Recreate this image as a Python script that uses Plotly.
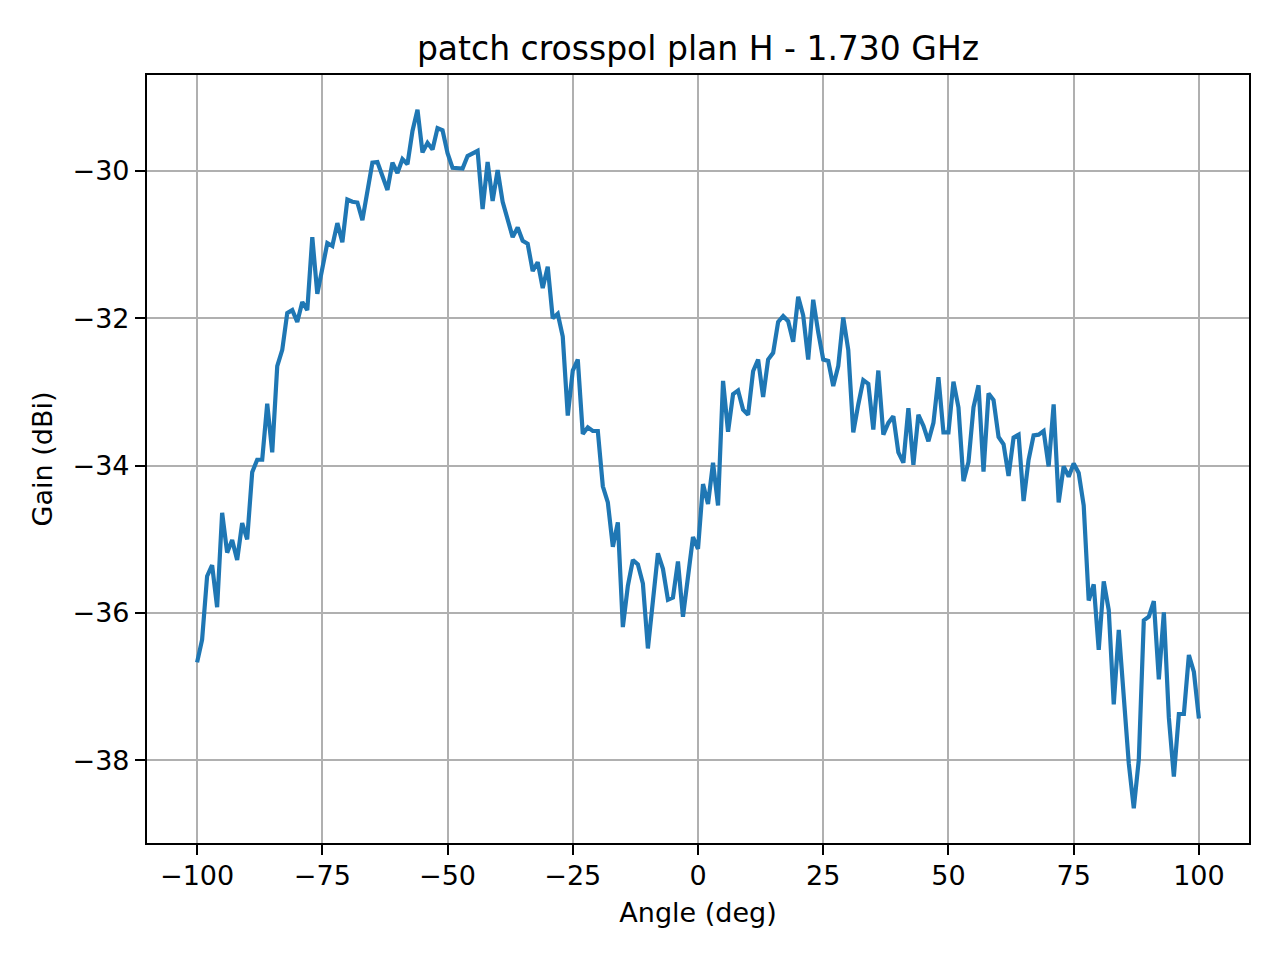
import plotly.graph_objects as go

# measured cross-pol gain, H plane, 1 deg steps from -100 to 100
angle_deg = list(range(-100, 101))
gain_dbi = [
    -36.67, -36.36, -35.50, -35.35, -35.92, -34.64, -35.18, -35.01, -35.28, -34.78,  # -100..-91
    -35.00, -34.09, -33.92, -33.92, -33.16, -33.82, -32.65, -32.43, -31.93, -31.89,  # -90..-81
    -32.05, -31.78, -31.89, -30.90, -31.67, -31.33, -30.98, -31.02, -30.71, -30.97,  # -80..-71
    -30.39, -30.42, -30.43, -30.67, -30.27, -29.89, -29.88, -30.06, -30.26, -29.89,  # -70..-61
    -30.03, -29.84, -29.91, -29.46, -29.17, -29.75, -29.62, -29.71, -29.42, -29.45,  # -60..-51
    -29.76, -29.96, -29.97, -29.97, -29.80, -29.76, -29.73, -30.52, -29.88, -30.41,  # -50..-41
    -29.99, -30.42, -30.66, -30.90, -30.77, -30.95, -30.99, -31.36, -31.24, -31.59,  # -40..-31
    -31.30, -32.00, -31.94, -32.25, -33.32, -32.71, -32.56, -33.57, -33.48, -33.53,  # -30..-21
    -33.53, -34.28, -34.50, -35.10, -34.77, -36.19, -35.63, -35.28, -35.34, -35.60,  # -20..-11
    -36.48, -35.83, -35.19, -35.40, -35.82, -35.79, -35.30, -36.05, -35.49, -34.97,  # -10..-1
    -35.13, -34.25, -34.52, -33.96, -34.54, -32.85, -33.54, -33.03, -32.98, -33.24,  # 0..9
    -33.31, -32.72, -32.56, -33.07, -32.56, -32.47, -32.05, -31.97, -32.04, -32.32,  # 10..19
    -31.71, -31.96, -32.56, -31.75, -32.19, -32.56, -32.58, -32.92, -32.65, -31.99,  # 20..29
    -32.43, -33.55, -33.17, -32.84, -32.89, -33.51, -32.71, -33.58, -33.42, -33.33,  # 30..39
    -33.82, -33.96, -33.22, -33.99, -33.31, -33.46, -33.67, -33.42, -32.80, -33.55,  # 40..49
    -33.55, -32.86, -33.21, -34.21, -33.95, -33.21, -32.91, -34.08, -33.02, -33.11,  # 50..59
    -33.61, -33.71, -34.14, -33.62, -33.58, -34.48, -33.92, -33.59, -33.58, -33.53,  # 60..69
    -34.01, -33.17, -34.50, -34.01, -34.15, -33.97, -34.10, -34.54, -35.83, -35.61,  # 70..79
    -36.50, -35.57, -35.96, -37.24, -36.23, -37.05, -38.04, -38.65, -37.99, -36.10,  # 80..89
    -36.05, -35.84, -36.90, -35.99, -37.42, -38.22, -37.37, -37.37, -36.57, -36.80,  # 90..99
    -37.43,  # 100
]

x_ticks = [-100, -75, -50, -25, 0, 25, 50, 75, 100]
x_labels = ["−100", "−75", "−50", "−25", "0", "25", "50", "75", "100"]
y_ticks = [-38, -36, -34, -32, -30]
y_labels = ["−38", "−36", "−34", "−32", "−30"]

FONT = "DejaVu Sans"

fig = go.Figure()
fig.add_trace(
    go.Scatter(
        x=angle_deg,
        y=gain_dbi,
        mode="lines",
        line=dict(color="#1f77b4", width=4.2),
        showlegend=False,
    )
)

axis_common = dict(
    showline=True,
    linecolor="black",
    linewidth=2.2,
    mirror=True,
    showgrid=True,
    gridcolor="#b0b0b0",
    gridwidth=2.2,
    zeroline=False,
    ticks="outside",
    ticklen=10,
    tickwidth=2.2,
    tickcolor="black",
    tickfont=dict(family=FONT, size=27, color="black"),
)

# page body adds ~8px offset, so margins are shifted to keep the axes box in place
fig.update_layout(
    width=1280,
    height=960,
    margin=dict(l=139, r=39, t=67, b=125),
    plot_bgcolor="white",
    paper_bgcolor="white",
    title=dict(
        text="patch crosspol plan H - 1.730 GHz",
        font=dict(family=FONT, size=33, color="black"),
        x=0.5,
        xref="paper",
        xanchor="center",
        y=1,
        yref="paper",
        yanchor="bottom",
        pad=dict(b=15),
    ),
    xaxis=dict(
        axis_common,
        range=[-110, 110],
        tickvals=x_ticks,
        ticktext=x_labels,
        ticklabelstandoff=-3,
        title=dict(text="Angle (deg)", font=dict(family=FONT, size=27, color="black"), standoff=14),
    ),
    yaxis=dict(
        axis_common,
        range=[-39.12, -28.70],
        tickvals=y_ticks,
        ticktext=y_labels,
        title=dict(text="Gain (dBi)", font=dict(family=FONT, size=27, color="black"), standoff=12),
    ),
)

fig.write_html("out.html")
